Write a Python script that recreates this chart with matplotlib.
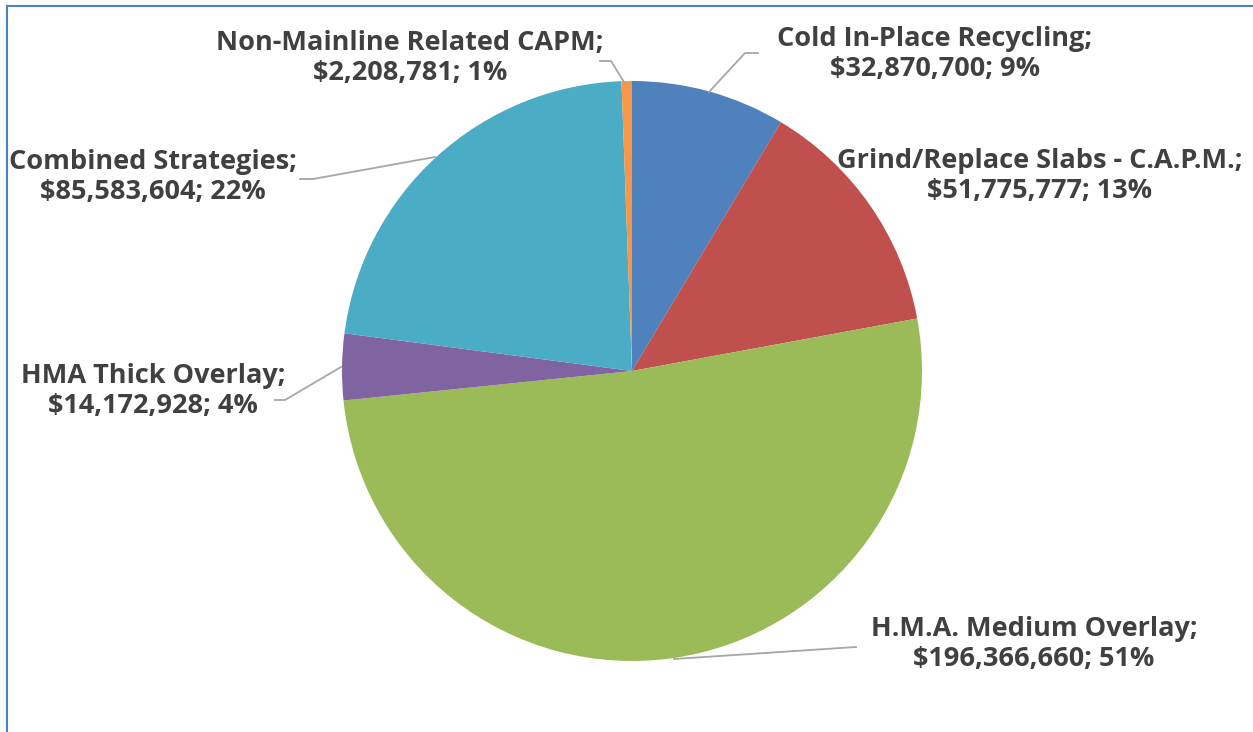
import matplotlib.pyplot as plt
from matplotlib.lines import Line2D

# data
names = ["Cold In-Place Recycling", "Grind/Replace Slabs - C.A.P.M.",
         "H.M.A. Medium Overlay", "HMA Thick Overlay",
         "Combined Strategies", "Non-Mainline Related CAPM"]
values = [32870700, 51775777, 196366660, 14172928, 85583604, 2208781]
pcts = [9, 13, 51, 4, 22, 1]  # as shown on the chart
colors = ["#4F81BD", "#C0504D", "#9BBB59", "#8064A2", "#4BACC6", "#F79646"]

W, H = 1253, 732
fig = plt.figure(figsize=(W / 100, H / 100), dpi=100)
ax = fig.add_axes([0, 0, 1, 1])

# pie, laid out in pixel coords (y flipped)
cx, cy, r = 632, H - 371, 290
ax.pie(values, colors=colors, startangle=90, counterclock=False,
       center=(cx, cy), radius=r, frame=True,
       wedgeprops=dict(linewidth=0))
ax.set_xlim(0, W)
ax.set_ylim(0, H)
ax.set_aspect("equal")
ax.axis("off")

# label centres (px, top-left origin) and leader polylines
label_pos = [(935, 54), (1040, 176), (1034, 644), (153, 391), (153, 177), (410, 58)]
leaders = [
    [(758, 53), (745, 53), (709, 92)],
    None,
    [(856, 647), (674, 659)],
    [(275, 400), (285, 400), (341, 367)],
    [(300, 179), (313, 179), (435, 157)],
    [(600, 61), (611, 61), (624, 82)],
]

for name, v, p, (lx, ly), ld in zip(names, values, pcts, label_pos, leaders):
    txt = f"{name};\n${v:,}; {p}%"
    ax.text(lx, H - ly, txt, ha="center", va="center", fontsize=19.5,
            fontweight="bold", family="Open Sans", color="#404040",
            linespacing=1.17)
    if ld:
        ax.plot([q[0] for q in ld], [H - q[1] for q in ld],
                color="#A6A6A6", lw=1.3)

# chart frame (top and left edges visible)
fig.add_artist(Line2D([7 / W, 7 / W], [0, 1 - 6 / H], color="#4F81BD", lw=1.5,
                      transform=fig.transFigure))
fig.add_artist(Line2D([7 / W, 1], [1 - 6 / H, 1 - 6 / H], color="#4F81BD", lw=1.5,
                      transform=fig.transFigure))

fig.savefig("out.png", dpi=100)
